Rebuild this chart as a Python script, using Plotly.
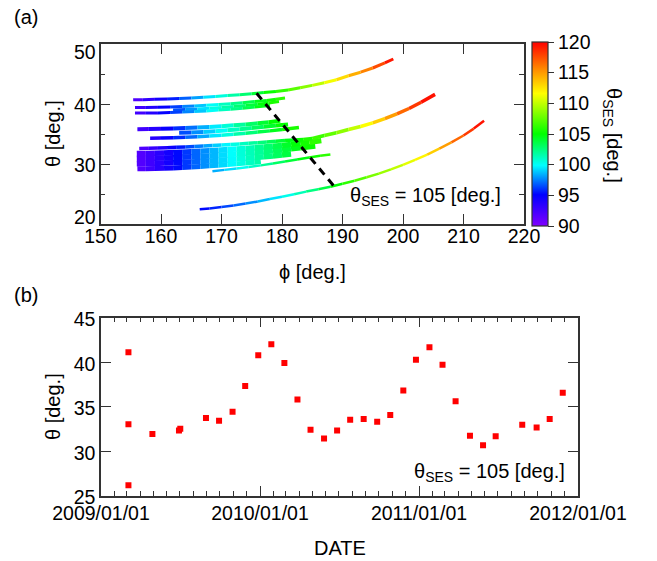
import plotly.graph_objects as go
from plotly.colors import sample_colorscale

# ---------------- data: panel (a) tracks (phi, theta, theta_SES) ----------------
T1_PHI = [155.4, 157, 159, 161, 163, 165, 167, 169, 171, 173, 175, 177, 179, 181, 183, 185, 187, 189, 191, 193, 195, 197, 198.4]
T1_THETA = [40.7, 40.72, 40.78, 40.85, 40.93, 41.0, 41.13, 41.27, 41.4, 41.55, 41.7, 41.9, 42.1, 42.35, 42.7, 43.1, 43.55, 44.05, 44.7, 45.3, 46.0, 46.85, 47.5]
T1_SES = [91.5, 92.5, 93.8, 95, 96.3, 97.5, 98.8, 100, 101.1, 102.2, 103.3, 104.7, 105.7, 106.7, 107.9, 109.2, 110.6, 112, 113.6, 115, 116.6, 118.5, 120]

T2A_PHI = [155.7, 157.5, 159.5, 161.5, 163.5, 165.5, 167.5, 169.5, 171.5, 173.5, 175.5, 177.5, 179, 180.5]
T2A_THETA = [39.4, 39.42, 39.46, 39.52, 39.6, 39.68, 39.78, 39.9, 40.05, 40.2, 40.4, 40.6, 40.8, 41.0]
T2A_SES = [92, 93, 94.3, 95.6, 97, 98.2, 99.5, 100.6, 101.7, 102.9, 104, 105, 105.8, 106.5]

T2B_PHI = [155.7, 157.5, 159.5, 161.5, 163.5, 165.5, 167.5, 169.5, 171.5, 173.5, 175.5, 178]
T2B_THETA = [38.5, 38.5, 38.52, 38.57, 38.65, 38.73, 38.85, 38.98, 39.13, 39.3, 39.48, 39.75]
T2B_SES = [92, 93, 94.3, 95.6, 97, 98.2, 99.5, 100.6, 101.7, 102.9, 104, 105.2]

T2C_PHI = [162, 164, 166, 168, 170, 172, 174, 176, 177.8, 179.5]
T2C_THETA = [39.0, 39.08, 39.18, 39.3, 39.43, 39.58, 39.75, 39.95, 40.15, 40.4]
T2C_SES = [96, 97.3, 98.7, 100, 101, 102.2, 103.3, 104.4, 105.3, 106]

T3A_PHI = [156.1, 158, 160, 162, 164, 166, 168, 170, 172, 174, 176, 177.8, 179.7]
T3A_THETA = [35.8, 35.82, 35.87, 35.93, 36.0, 36.08, 36.18, 36.3, 36.45, 36.6, 36.78, 36.97, 37.2]
T3A_SES = [92, 93, 94.2, 95.3, 96.6, 97.8, 99, 100.1, 101.3, 102.4, 103.5, 104.5, 105.5]

T3B_PHI = [158.2, 160, 162, 164, 166, 168, 170, 172, 174, 176, 178, 180, 182.8]
T3B_THETA = [34.3, 34.32, 34.38, 34.45, 34.55, 34.66, 34.8, 34.95, 35.12, 35.32, 35.52, 35.75, 36.1]
T3B_SES = [93, 94.1, 95.3, 96.5, 97.7, 98.9, 100, 101.1, 102.1, 103.1, 104, 104.9, 106.3]

T3C_PHI = [163, 165, 167, 169, 171, 173, 175, 177, 179, 181]
T3C_THETA = [35.2, 35.25, 35.35, 35.47, 35.62, 35.8, 36.0, 36.2, 36.4, 36.6]
T3C_SES = [96, 97.2, 98.4, 99.5, 100.6, 101.6, 102.6, 103.6, 104.6, 105.6]

T4A_PHI = [156.4, 158, 159.5, 161, 162.5, 164, 165.5, 167, 168.5, 170, 171.5, 173, 174.5, 176, 177.5, 179, 180.5, 182, 183.5, 185,
           187, 189, 191, 193, 195, 197, 199, 201, 203, 205.3]
T4A_THETA = [32.6, 32.63, 32.67, 32.72, 32.78, 32.85, 32.92, 33.0, 33.08, 33.15, 33.25, 33.35, 33.45, 33.55, 33.67, 33.8, 33.9, 34.0, 34.1, 34.25,
             34.75, 35.2, 35.75, 36.25, 36.85, 37.55, 38.35, 39.25, 40.3, 41.6]
T4A_SES = [91.5, 92.4, 93.3, 94.2, 95.1, 96, 97, 97.9, 98.6, 99.4, 100.1, 100.8, 101.5, 102.2, 102.9, 103.6, 104.3, 104.9, 105.5, 106.1,
           107, 108, 109.3, 110.8, 112.3, 114, 115.8, 117.5, 118.9, 120]

T4B_PHI = [156, 157.5, 159, 160.5, 162, 163.5, 165, 166.5, 168, 169.5, 171, 172.5, 174, 175.5, 177, 178.5, 180, 181.5, 183, 184.5, 186.5]
T4B_THETA = [31.75, 31.77, 31.8, 31.84, 31.9, 31.97, 32.05, 32.12, 32.2, 32.3, 32.4, 32.5, 32.6, 32.72, 32.85, 32.97, 33.1, 33.27, 33.45, 33.62, 33.9]
T4B_SES = [91.5, 92.2, 93, 93.9, 94.8, 95.7, 96.6, 97.4, 98.2, 98.9, 99.6, 100.3, 101, 101.7, 102.4, 103.1, 103.8, 104.5, 105.2, 105.8, 106.6]

T4C_PHI = [156, 157.5, 159, 160.5, 162, 163.5, 165, 166.5, 168, 169.5, 171, 172.5, 174, 175.5, 177, 178.5, 180, 181.5, 183, 185.5]
T4C_THETA = [30.9, 30.92, 30.95, 31.0, 31.05, 31.12, 31.2, 31.27, 31.35, 31.45, 31.55, 31.67, 31.8, 31.92, 32.05, 32.2, 32.35, 32.52, 32.7, 33.0]
T4C_SES = [91.5, 92.2, 93, 93.9, 94.8, 95.7, 96.6, 97.4, 98.2, 98.9, 99.6, 100.3, 101, 101.6, 102.2, 102.9, 103.5, 104.2, 104.8, 105.8]

T4D_PHI = [156, 157.5, 159, 160.5, 162, 163.5, 165, 166.5, 168, 169.5, 171, 172.5, 174, 175.5, 177, 178.5, 180, 181.5]
T4D_THETA = [30.05, 30.07, 30.1, 30.15, 30.2, 30.27, 30.35, 30.42, 30.5, 30.6, 30.7, 30.82, 30.95, 31.07, 31.2, 31.35, 31.5, 31.65]
T4D_SES = [91.5, 92.2, 93, 93.9, 94.8, 95.7, 96.6, 97.4, 98.2, 98.9, 99.5, 100.2, 100.9, 101.5, 102.2, 102.8, 103.4, 104.0]

T4E_PHI = [156.1, 157.5, 159, 160.5, 162, 163.5, 165, 166.5, 168, 169.5, 171, 172.5, 174, 175.5, 176.5]
T4E_THETA = [29.2, 29.22, 29.25, 29.3, 29.35, 29.42, 29.5, 29.6, 29.7, 29.8, 29.9, 30.02, 30.15, 30.28, 30.4]
T4E_SES = [91.5, 92.2, 93, 93.9, 94.8, 95.7, 96.6, 97.4, 98.2, 98.9, 99.5, 100.2, 100.8, 101.4, 101.8]

T5_PHI = [168.5, 170.5, 172.5, 174.5, 176.5, 178.5, 180.5, 182.5, 184.5, 186.3, 188]
T5_THETA = [28.8, 29.02, 29.25, 29.5, 29.77, 30.07, 30.4, 30.75, 31.1, 31.38, 31.6]
T5_SES = [98, 98.8, 99.7, 100.6, 101.5, 102.5, 103.5, 104.3, 105.1, 105.8, 106.5]

T6_PHI = [166.4, 168, 170, 172, 174, 176, 178, 180, 182, 184, 186, 188, 190, 192, 194, 196, 198, 200, 202, 204, 206, 208, 210, 211.7, 213.4]
T6_THETA = [22.45, 22.6, 22.82, 23.1, 23.4, 23.75, 24.15, 24.55, 24.95, 25.4, 25.8, 26.2, 26.7, 27.2, 27.8, 28.4, 29.1, 29.85, 30.7, 31.55, 32.55, 33.6, 34.75, 35.9, 37.2]
T6_SES = [95, 95.5, 96.1, 96.8, 97.4, 98.2, 99, 99.8, 100.8, 101.8, 103, 104.3, 105.6, 106.7, 107.7, 108.6, 109.5, 110.5, 111.4, 112.5, 114, 115.8, 117.5, 118.8, 120]

CONTOUR_PHI = [175.8, 188.6]
CONTOUR_THETA = [41.8, 26.3]

TOP_Y_TICKS = [20, 30, 40, 50]

# ---------------- data: panel (b) ----------------
DATES = ["2009-03-05", "2009-03-05", "2009-03-05", "2009-04-29", "2009-06-29", "2009-07-02",
         "2009-08-30", "2009-09-29", "2009-10-30", "2009-11-28", "2009-12-28", "2010-01-27",
         "2010-02-26", "2010-03-28", "2010-04-27", "2010-05-28", "2010-06-27", "2010-07-27",
         "2010-08-27", "2010-09-27", "2010-10-27", "2010-11-26", "2010-12-25", "2011-01-25",
         "2011-02-24", "2011-03-26", "2011-04-28", "2011-05-28", "2011-06-26", "2011-08-26",
         "2011-09-28", "2011-10-28", "2011-11-27"]
THETA_B = [41.1, 33.0, 26.15, 31.9, 32.3, 32.5, 33.7, 33.4, 34.4, 37.3, 40.75, 42.0,
           39.9, 35.8, 32.4, 31.4, 32.3, 33.5, 33.6, 33.3, 34.05, 36.8, 40.25, 41.65,
           39.7, 35.6, 31.7, 30.65, 31.65, 32.95, 32.65, 33.6, 36.55]

COLORBAR_TICKS = [90, 95, 100, 105, 110, 115, 120]

# ---------------- styling ----------------
FONT = "Liberation Sans, Arial, sans-serif"
AX = "#333333"
SES_MIN, SES_MAX = 90, 120
COLORSCALE = [[0.0, "#8000ff"], [0.17, "#0000ff"], [0.33, "#00ffff"], [0.5, "#00ff00"],
              [0.72, "#ffff00"], [0.85, "#ff8c00"], [1.0, "#ff0000"]]

fig = go.Figure()


def add_track(phi, theta, ses, width):
    for i in range(len(phi) - 1):
        v = 0.5 * (ses[i] + ses[i + 1])
        frac = min(max((v - SES_MIN) / (SES_MAX - SES_MIN), 0), 1)
        col = sample_colorscale(COLORSCALE, [frac])[0]
        fig.add_trace(go.Scatter(x=[phi[i], phi[i + 1]], y=[theta[i], theta[i + 1]],
                                 mode="lines", line=dict(color=col, width=width),
                                 hoverinfo="skip", showlegend=False,
                                 xaxis="x", yaxis="y"))


add_track(T4E_PHI, T4E_THETA, T4E_SES, 5)
add_track(T4D_PHI, T4D_THETA, T4D_SES, 5.5)
add_track(T4C_PHI, T4C_THETA, T4C_SES, 5.5)
add_track(T4B_PHI, T4B_THETA, T4B_SES, 5.5)
add_track(T4A_PHI, T4A_THETA, T4A_SES, 3.5)
add_track(T5_PHI, T5_THETA, T5_SES, 2.5)
add_track(T3C_PHI, T3C_THETA, T3C_SES, 4)
add_track(T3B_PHI, T3B_THETA, T3B_SES, 3.5)
add_track(T3A_PHI, T3A_THETA, T3A_SES, 4)
add_track(T2C_PHI, T2C_THETA, T2C_SES, 3)
add_track(T2B_PHI, T2B_THETA, T2B_SES, 3)
add_track(T2A_PHI, T2A_THETA, T2A_SES, 3)
add_track(T1_PHI, T1_THETA, T1_SES, 3)
add_track(T6_PHI, T6_THETA, T6_SES, 2.5)

# theta_SES = 105 contour
fig.add_trace(go.Scatter(x=CONTOUR_PHI, y=CONTOUR_THETA, mode="lines",
                         line=dict(color="black", width=3, dash="8px,6px"),
                         hoverinfo="skip", showlegend=False, xaxis="x", yaxis="y"))

# colorbar carrier (invisible)
fig.add_trace(go.Scatter(x=[0, 0], y=[0, 0], mode="markers",
                         marker=dict(color=[SES_MIN, SES_MAX], coloraxis="coloraxis", opacity=0),
                         hoverinfo="skip", showlegend=False, xaxis="x", yaxis="y"))

# panel (b)
fig.add_trace(go.Scatter(x=DATES, y=THETA_B, mode="markers",
                         marker=dict(symbol="square", size=6, color="#ff0000"),
                         showlegend=False, xaxis="x2", yaxis="y2"))

tickfont = dict(family=FONT, size=19.5, color="black")
common = dict(showline=True, linecolor=AX, linewidth=1.5, mirror="ticks", ticks="inside",
              tickcolor=AX, tickwidth=1.3, ticklen=10, showgrid=False, zeroline=False,
              tickfont=tickfont, automargin=False)

TOP_Y_RANGE = [20, 50]

fig.update_layout(
    width=657, height=561,
    margin=dict(l=0, r=0, t=0, b=0, autoexpand=False),
    paper_bgcolor="white", plot_bgcolor="white",
    font=dict(family=FONT, color="black"),
    xaxis=dict(domain=[100.5 / 657, 524 / 657], range=[150, 220], dtick=10, anchor="y",
               ticklabelstandoff=-6, **common),
    yaxis=dict(domain=[1 - 224 / 561, 1 - 44 / 561], range=TOP_Y_RANGE, tickvals=TOP_Y_TICKS,
               anchor="x", showticklabels=False,
               minor=dict(dtick=5, ticks="inside", ticklen=5, tickcolor=AX, tickwidth=1.3),
               **{k: v for k, v in common.items() if k != "tickfont"}),
    xaxis2=dict(domain=[101 / 657, 578 / 657], type="date", range=["2009-01-01", "2012-01-01"],
                dtick="M12", tick0="2009-01-01", tickformat="%Y/%m/%d", anchor="y2",
                ticklabelstandoff=-1,
                minor=dict(dtick="M1", tick0="2009-01-01", ticks="inside", ticklen=5,
                           tickcolor=AX, tickwidth=1.3),
                **common),
    yaxis2=dict(domain=[1 - 495.5 / 561, 1 - 317.5 / 561], range=[25, 45], dtick=5, anchor="x2",
                ticklabelshift=2, **common),
    coloraxis=dict(
        colorscale=COLORSCALE, cmin=SES_MIN, cmax=SES_MAX,
        colorbar=dict(x=532 / 657, xanchor="left", y=1 - 134 / 561, yanchor="middle",
                      len=184 / 561, lenmode="fraction", thickness=16,
                      xpad=0, ypad=0, outlinewidth=1.2, outlinecolor=AX,
                      tickvals=COLORBAR_TICKS, ticks="outside", ticklen=6, tickwidth=1.3,
                      tickcolor=AX, tickfont=tickfont)),
)

# top-panel y tick labels, kept inside the axis extent (end labels clamped to the frame)
for v in TOP_Y_TICKS:
    shift = -1
    if v == TOP_Y_RANGE[1]:
        shift = -8
    elif v == TOP_Y_RANGE[0]:
        shift = 7
    fig.add_annotation(text=str(v), x=98 / 657, xref="paper", y=v, yref="y",
                       xanchor="right", yanchor="middle", yshift=shift, showarrow=False,
                       font=tickfont)

ann_font = dict(family=FONT, size=20, color="black")


def ann(text, x, y, xanchor="center", yanchor="middle", angle=0):
    fig.add_annotation(text=text, x=x / 657, y=1 - y / 561, xref="paper", yref="paper",
                       xanchor=xanchor, yanchor=yanchor, showarrow=False, textangle=angle,
                       font=ann_font)


ann("(a)", 12, 17, xanchor="left")
ann("(b)", 12, 295, xanchor="left")
ann("θ [deg.]", 53, 134, angle=-90)
ann("ϕ [deg.]", 312, 272)
ann("θ [deg.]", 53, 407, angle=-90)
ann("DATE", 340, 548)
ann("θ<sub>SES</sub> [deg.]", 612, 135, angle=90)
ann("θ<sub>SES</sub> = 105 [deg.]", 503, 196, xanchor="right")
ann("θ<sub>SES</sub> = 105 [deg.]", 567, 472, xanchor="right")

fig.write_html("out.html")
